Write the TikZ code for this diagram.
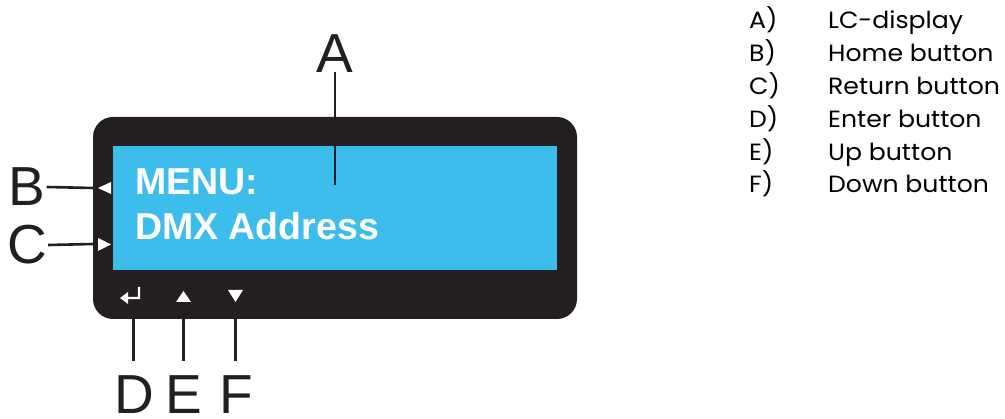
\documentclass[tikz,border=0pt]{standalone}
\usepackage{fontspec}
\setmainfont{Liberation Sans}
\newfontfamily\legfont[FakeStretch=1.07]{Poppins}
\definecolor{panelblack}{HTML}{231F20}
\definecolor{lcdblue}{HTML}{3DBDEC}
\begin{document}
\begin{tikzpicture}[x=1pt,y=-1pt,
  bigletter/.style={inner sep=0pt, font=\fontsize{55}{55}\selectfont, text=panelblack},
  lcdtext/.style={inner sep=0pt, anchor=base west, text=white, font=\fontsize{37.5}{37.5}\selectfont\bfseries},
  leader/.style={line width=2.6pt, draw=panelblack},
  icon/.style={fill=white, draw=none},
  legkey/.style={inner sep=0pt, anchor=base west, text=black, font=\legfont\fontsize{23.5}{23.5}\selectfont},
]
\useasboundingbox (0,0) rectangle (1005,419);
% panel
\fill[panelblack, rounded corners=20pt] (93,117) rectangle (577,319);
\node[fill=lcdblue, draw=none, inner sep=0pt, minimum width=444pt, minimum height=124pt, anchor=north west] (lcd) at (113,146) {};
\node[lcdtext] (menu) at (135,195) {MENU:};
\node[lcdtext] (dmx) at (135,240) {DMX Address};
% side button markers
\fill[icon] (98,188) -- (111,182) -- (111,194) -- cycle;
\fill[icon] (111,244.5) -- (98,238) -- (98,251) -- cycle;
% bottom icons
\fill[icon] (120,298) -- (128,292) -- (128,296.8) -- (137.8,296.8) -- (137.8,287) -- (140.2,287) -- (140.2,299.2) -- (128,299.2) -- (128,304) -- cycle;
\fill[icon] (176,302) -- (183.5,291) -- (191,302) -- cycle;
\fill[icon] (228,290) -- (243,290) -- (235.5,302) -- cycle;
% labels
\node[bigletter] (A) at (335,54) {A};
\node[bigletter] (B) at (27,187) {B};
\node[bigletter] (C) at (27,245) {C};
\node[bigletter] (D) at (134,394.5) {D};
\node[bigletter] (E) at (184,394.5) {E};
\node[bigletter] (F) at (236,394.5) {F};
\coordinate (a1) at (335,185);
\coordinate (b1) at (94,188);
\coordinate (c1) at (94,244);
\coordinate (d1) at (133.5,319);
\coordinate (e1) at (183.5,319);
\coordinate (f1) at (235.5,319);
\draw[leader] (335,72) -- (a1);
\draw[leader] (B.east) ++(1pt,0) -- (b1);
\draw[leader] (C.east) ++(1pt,0) -- (c1);
\draw[leader] (d1) -- (133.5,361);
\draw[leader] (e1) -- (183.5,361);
\draw[leader] (f1) -- (235.5,361);
% legend
\foreach \k/\t [count=\i from 0] in {A/LC-display,B/Home button,C/Return button,D/Enter button,E/Up button,F/Down button}{
  \node[legkey] (key\k) at (749,{29+32.8*\i}) {\k)};
  \node[legkey] (txt\k) at (828,{29+32.8*\i}) {\t};
}
\end{tikzpicture}
\end{document}
